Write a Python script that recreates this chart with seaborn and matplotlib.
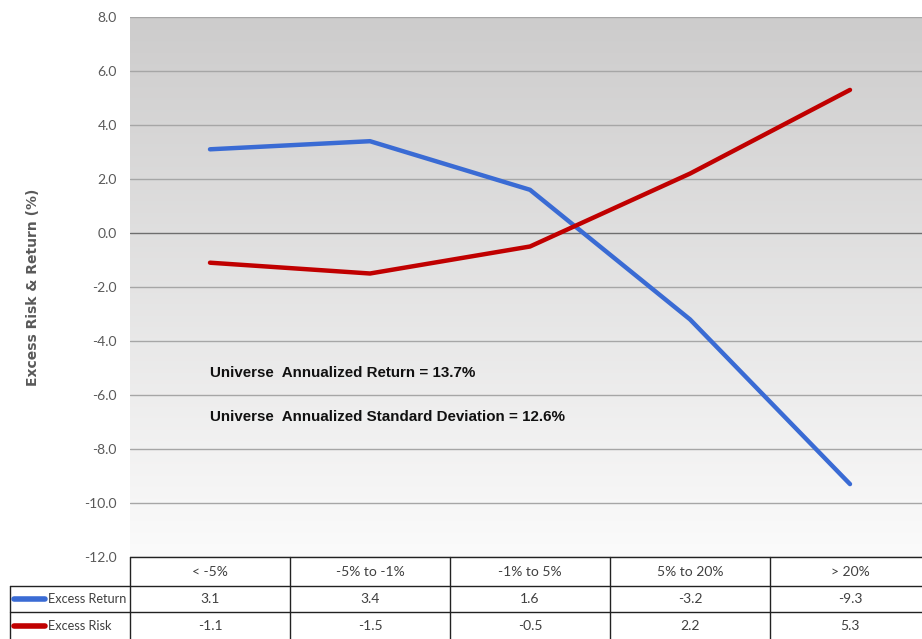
import numpy as np
import pandas as pd
import matplotlib
matplotlib.use("Agg")
import matplotlib.pyplot as plt
import matplotlib.transforms as mtransforms
import seaborn as sns
from matplotlib.lines import Line2D

categories = ["< -5%", "-5% to -1%", "-1% to 5%", "5% to 20%", "> 20%"]
excess_return = [3.1, 3.4, 1.6, -3.2, -9.3]
excess_risk = [-1.1, -1.5, -0.5, 2.2, 5.3]
series_names = ["Excess Return", "Excess Risk"]
series_colors = ["#3a6bd4", "#c00000"]
y_ticks = [-12, -10, -8, -6, -4, -2, 0, 2, 4, 6, 8]
notes = ["Universe  Annualized Return = 13.7%",
         "Universe  Annualized Standard Deviation = 12.6%"]

sns.set_theme(style="white")
body_font = ["Lato", "DejaVu Sans"]
plt.rcParams["font.family"] = body_font

df = pd.DataFrame({
    "x": list(range(len(categories))) * 2,
    "value": excess_return + excess_risk,
    "series": [series_names[0]] * len(categories) + [series_names[1]] * len(categories),
})

W, H = 922, 639
fig = plt.figure(figsize=(W / 100, H / 100), dpi=100)
ax_left, ax_right, ax_top, ax_bot = 130, 930, 17, 557
ax_h = ax_bot - ax_top
ax = fig.add_axes([ax_left / W, 1 - ax_bot / H, (ax_right - ax_left) / W, ax_h / H])

# gradient background (dark gray at top, near white at bottom)
grad = np.linspace(0, 1, 256).reshape(-1, 1)
cmap = matplotlib.colors.LinearSegmentedColormap.from_list("bg", ["#fbfbfb", "#cdcccc"])
ax.imshow(grad, extent=[-0.5, 4.5, -12, 8], aspect="auto", cmap=cmap, zorder=0, origin="lower")

for t in y_ticks:
    ax.axhline(t, color="#6e6e6e" if t == 0 else "#a6a6a6", lw=1.0, zorder=1)

sns.lineplot(data=df, x="x", y="value", hue="series", palette=series_colors,
             linewidth=3.2, ax=ax, legend=False, zorder=3)
for l in ax.lines[-2:]:
    l.set_solid_capstyle("round")

ax.set_xlim(-0.5, 4.5)
ax.set_ylim(-12, 8)
ax.set_yticks(y_ticks)
ax.set_yticklabels([f"{t:.1f}" for t in y_ticks], fontsize=10, color="#595959")
ax.tick_params(axis="y", length=0, pad=9.5)
ax.set_xticks([])
ax.set_xlabel("")
ax.set_ylabel("Excess Risk & Return (%)", fontsize=10, fontweight="bold", color="#595959",
              family=["DejaVu Sans"], labelpad=32)
for s in ax.spines.values():
    s.set_visible(False)

note_font = ["Liberation Sans", "DejaVu Sans"]
ax.text(0, -5.2, notes[0], fontsize=10.9, fontweight="bold", color="#111111", va="center",
        ha="left", zorder=4, family=note_font)
ax.text(0, -6.8, notes[1], fontsize=10.9, fontweight="bold", color="#111111", va="center",
        ha="left", zorder=4, family=note_font)

# data table drawn below the axes (x in data units, y in axes fraction)
tr = mtransforms.blended_transform_factory(ax.transData, ax.transAxes)
row_edges = [0, -29 / ax_h, -55 / ax_h, -82 / ax_h]
label_left = -0.5 - 120 / 160
ekw = dict(color="#222222", lw=1.0, transform=tr, clip_on=False, zorder=5)
# horizontal lines
ax.add_line(Line2D([-0.5, 4.5], [row_edges[0]] * 2, **ekw))
for yy in row_edges[1:3]:
    ax.add_line(Line2D([label_left, 4.5], [yy] * 2, **ekw))
# vertical lines
for xx in np.arange(-0.5, 4.6, 1.0):
    ax.add_line(Line2D([xx, xx], [row_edges[0], row_edges[3]], **ekw))
ax.add_line(Line2D([label_left, label_left], [row_edges[1], row_edges[3]], **ekw))

tkw = dict(fontsize=10, color="#404040", ha="center", va="center", transform=tr, clip_on=False)
for j, c in enumerate(categories):
    ax.text(j, (row_edges[0] + row_edges[1]) / 2, c, **tkw)
for i, vals in enumerate([excess_return, excess_risk]):
    yc = (row_edges[i + 1] + row_edges[i + 2]) / 2
    for j, v in enumerate(vals):
        ax.text(j, yc, f"{v:.1f}", **tkw)
    # legend key + label
    ax.add_line(Line2D([label_left + 4 / 160, label_left + 35 / 160], [yc, yc], color=series_colors[i],
                       lw=4, solid_capstyle="round", transform=tr, clip_on=False, zorder=6))
    ax.text(label_left + 38 / 160, yc, series_names[i], fontsize=9.2, color="#404040",
            ha="left", va="center", transform=tr, clip_on=False)

fig.savefig("out.png", dpi=100)
